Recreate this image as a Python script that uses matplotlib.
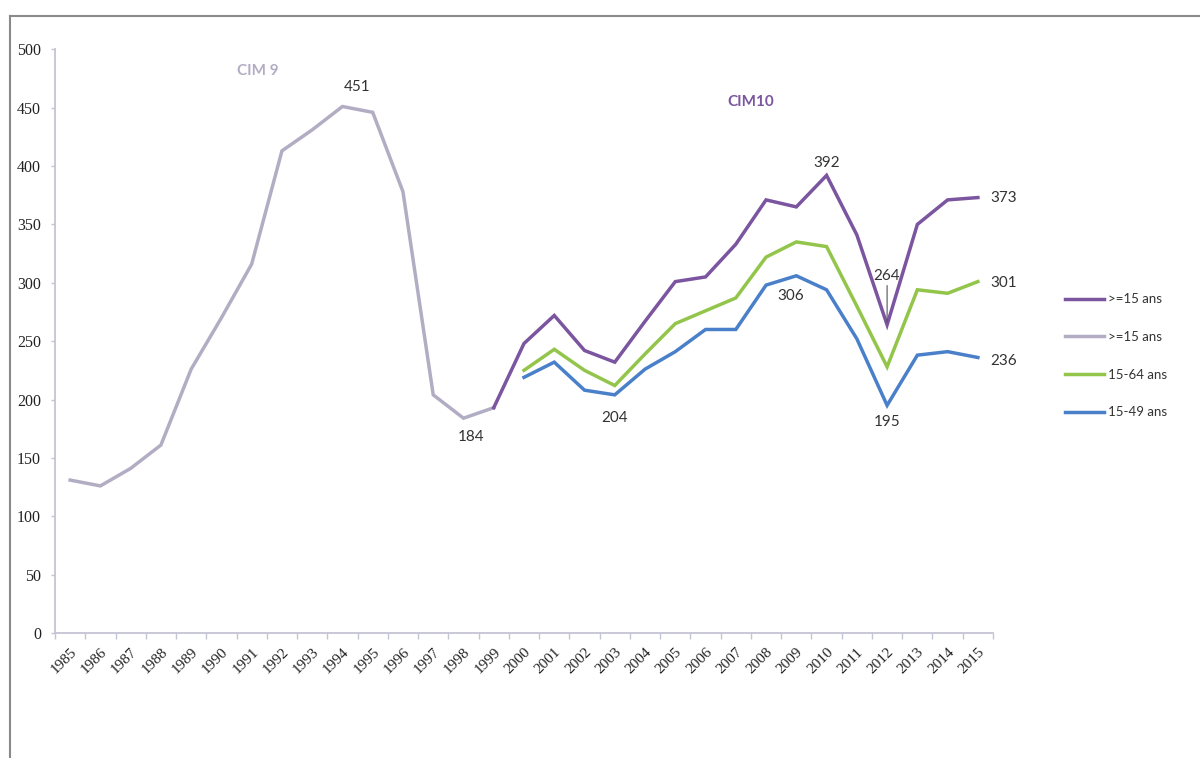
import numpy as np
import matplotlib
matplotlib.use("Agg")
import matplotlib.pyplot as plt
from matplotlib.lines import Line2D

nan = np.nan
years = ["1985", "1986", "1987", "1988", "1989", "1990", "1991", "1992", "1993", "1994",
         "1995", "1996", "1997", "1998", "1999", "2000", "2001", "2002", "2003", "2004",
         "2005", "2006", "2007", "2008", "2009", "2010", "2011", "2012", "2013", "2014", "2015"]

cim9_15plus = [131, 126, 141, 161, 226, 270, 316, 413, 431, 451,
               446, 378, 204, 184, 193] + [nan] * 16
cim10_15plus = [nan] * 14 + [193, 248, 272, 242, 232, 267, 301, 305, 333, 371,
                             365, 392, 341, 264, 350, 371, 373]
cim10_15_64 = [nan] * 15 + [225, 243, 225, 212, 239, 265, 276, 287, 322,
                            335, 331, 280, 228, 294, 291, 301]
cim10_15_49 = [nan] * 15 + [219, 232, 208, 204, 226, 241, 260, 260, 298,
                            306, 294, 252, 195, 238, 241, 236]

legend_labels = [">=15 ans", ">=15 ans", "15-64 ans", "15-49 ans"]

c_purple = "#7b559f"
c_gray = "#b3adc4"
c_green = "#93c54b"
c_blue = "#4a80c9"

fig = plt.figure(figsize=(12, 7.58), dpi=100)
ax = fig.add_axes([55 / 1200, 1 - 633 / 758, (993 - 55) / 1200, (633 - 49.3) / 758])

x = np.arange(len(years))
lw = 2.5
ax.plot(x, cim9_15plus, color=c_gray, lw=lw, solid_joinstyle="miter")
ax.plot(x, cim10_15plus, color=c_purple, lw=lw, solid_joinstyle="miter")
ax.plot(x, cim10_15_64, color=c_green, lw=lw, solid_joinstyle="miter")
ax.plot(x, cim10_15_49, color=c_blue, lw=lw, solid_joinstyle="miter")

ax.set_xlim(-0.5, len(years) - 0.5)
ax.set_ylim(0, 500)
ax.set_yticks(np.arange(0, 501, 50))

serif = ["Liberation Serif", "DejaVu Serif"]
ax.set_yticklabels([str(v) for v in range(0, 501, 50)], family=serif, fontsize=11.5, color="#222222")
ax.set_xticks(x)
ax.set_xticklabels(years, family=serif, fontsize=11, rotation=45, ha="right",
                   rotation_mode="anchor", color="#222222")
ax.set_xticks(np.arange(-0.5, len(years), 1), minor=True)
ax.tick_params(axis="x", which="major", length=0, pad=9)
ax.tick_params(axis="x", which="minor", length=4, color="#c4c4d4", width=1, direction="out")
ax.tick_params(axis="y", length=3, color="#c4c4d4", width=1, direction="out", pad=7)

for s in ["top", "right"]:
    ax.spines[s].set_visible(False)
for s in ["left", "bottom"]:
    ax.spines[s].set_color("#c4c4d4")
    ax.spines[s].set_linewidth(1.3)

lab = ["Lato", "DejaVu Sans"]
tk = dict(family=lab, fontsize=11, color="#333333", ha="center", va="center")
ax.text(9.48, 468, "451", **tk)
ax.text(13.25, 168, "184", **tk)
ax.text(18, 184, "204", **tk)
ax.text(25, 403, "392", **tk)
ax.text(23.8, 289, "306", **tk)
ax.text(27, 181, "195", **tk)
ax.text(30.85, 373, "373", clip_on=False, **tk)
ax.text(30.85, 300, "301", clip_on=False, **tk)
ax.text(30.85, 233, "236", clip_on=False, **tk)
ax.annotate("264", xy=(27, 266), xytext=(27, 300), ha="center", va="bottom",
            family=lab, fontsize=11, color="#333333",
            arrowprops=dict(arrowstyle="-", color="#555555", lw=0.8, shrinkA=0, shrinkB=0))

ax.text(6.2, 481, "CIM 9", family=lab, fontsize=11, fontweight="bold", color=c_gray,
        ha="center", va="center")
ax.text(22.5, 455, "CIM10", family=lab, fontsize=11, fontweight="bold", color=c_purple,
        ha="center", va="center")

handles = [Line2D([], [], color=c, lw=2.5) for c in [c_purple, c_gray, c_green, c_blue]]
leg = fig.legend(handles, legend_labels, loc="upper left", bbox_to_anchor=(1060 / 1200, 1 - 288 / 758),
                 frameon=False, prop={"family": lab, "size": 9.5}, handlelength=2.9,
                 handletextpad=0.3, labelspacing=1.95, borderaxespad=0)
for t in leg.get_texts():
    t.set_color("#333333")

# outer frame (top and left edges)
fig.add_artist(Line2D([9.5 / 1200, 9.5 / 1200], [0, 1 - 15.5 / 758], transform=fig.transFigure,
                      color="#8a8a8a", lw=1.5))
fig.add_artist(Line2D([9.5 / 1200, 1], [1 - 15.5 / 758, 1 - 15.5 / 758], transform=fig.transFigure,
                      color="#8a8a8a", lw=1.5))

fig.savefig("out.png", dpi=100)
